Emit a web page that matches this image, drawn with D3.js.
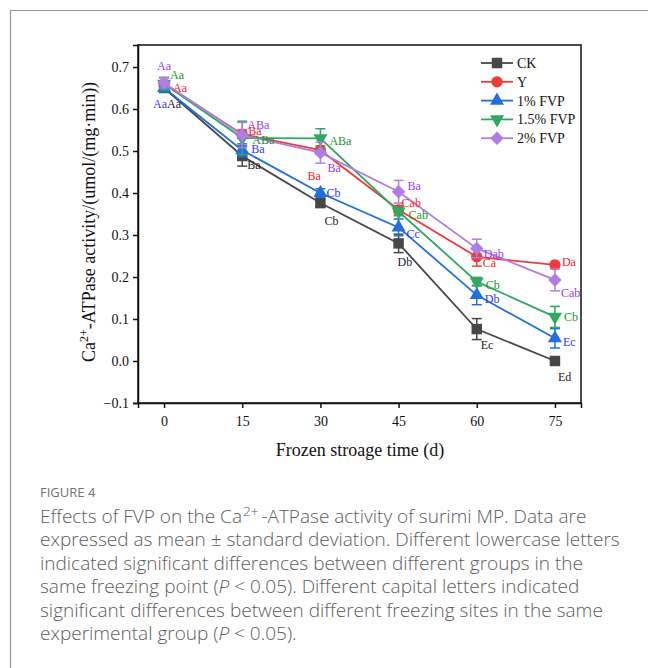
<!DOCTYPE html>
<html>
<head>
<meta charset="utf-8">
<script src="https://cdn.jsdelivr.net/npm/d3@7"></script>
<style>
  body { margin: 0; background: #fff; }
  svg { display: block; }
</style>
</head>
<body>
<svg id="chart" width="648" height="668"></svg>
<script>
// storage days
var days = [0, 15, 30, 45, 60, 75];
var seriesNames = ["CK", "Y", "1% FVP", "1.5% FVP", "2% FVP"];

// Ca2+-ATPase activity, mean values
var ckMean   = [0.650, 0.488, 0.376, 0.280, 0.076, 0.000];
var yMean    = [0.660, 0.540, 0.502, 0.360, 0.248, 0.229];
var fvp1Mean = [0.650, 0.502, 0.400, 0.318, 0.157, 0.054];
var fvp15Mean= [0.660, 0.531, 0.530, 0.356, 0.189, 0.105];
var fvp2Mean = [0.662, 0.538, 0.496, 0.403, 0.268, 0.193];

// standard deviations
var ckSd    = [0.010, 0.024, 0.010, 0.022, 0.025, 0.004];
var ySd     = [0.015, 0.010, 0.010, 0.010, 0.022, 0.005];
var fvp1Sd  = [0.010, 0.015, 0.010, 0.020, 0.023, 0.023];
var fvp15Sd = [0.015, 0.040, 0.023, 0.010, 0.010, 0.025];
var fvp2Sd  = [0.012, 0.030, 0.025, 0.027, 0.022, 0.026];

// significance letters
var ckLetters    = ["Aa", "Ba", "Cb", "Db", "Ec", "Ed"];
var yLetters     = ["Aa", "Ba", "Ba", "Cab", "Ca", "Da"];
var fvp1Letters  = ["Aa", "Ba", "Cb", "Cc", "Db", "Ec"];
var fvp15Letters = ["Aa", "ABa", "ABa", "Cab", "Cb", "Cb"];
var fvp2Letters  = ["Aa", "ABa", "Ba", "Ba", "Dab", "Cab"];

var xTicks = [0, 15, 30, 45, 60, 75];
var yTicks = [-0.1, 0.0, 0.1, 0.2, 0.3, 0.4, 0.5, 0.6, 0.7];

// label offsets (px) from each point: [dx, dy] with text-anchor start, dy = text middle
var ckOff    = [[3,16],[5,9],[4,18],[-1,18],[4,16],[3,16]];
var yOff     = [[9,4],[6,-3],[-13,26],[3,-7],[6,6],[7,-3]];
var fvp1Off  = [[-11,16],[9,-1],[6,0],[8,6],[8,4],[8,3]];
var fvp15Off = [[6,-9],[10,2],[9,2],[10,3],[9,3],[9,0]];
var fvp2Off  = [[-7,-17],[5,-10],[7,15],[9,-6],[7,5],[6,13]];

var series = [
  {name: seriesNames[0], mean: ckMean,    sd: ckSd,    letters: ckLetters,    off: ckOff,    color: "#474747", text: "#222222", shape: "square"},
  {name: seriesNames[1], mean: yMean,     sd: ySd,     letters: yLetters,     off: yOff,     color: "#f03b3d", text: "#ff2222", shape: "circle"},
  {name: seriesNames[2], mean: fvp1Mean,  sd: fvp1Sd,  letters: fvp1Letters,  off: fvp1Off,  color: "#1f6fdf", text: "#3535ff", shape: "triangle"},
  {name: seriesNames[3], mean: fvp15Mean, sd: fvp15Sd, letters: fvp15Letters, off: fvp15Off, color: "#2fa862", text: "#22962a", shape: "triangleDown"},
  {name: seriesNames[4], mean: fvp2Mean,  sd: fvp2Sd,  letters: fvp2Letters,  off: fvp2Off,  color: "#b07ee2", text: "#9b3cf5", shape: "diamond"}
];

var svg = d3.select("#chart");

// outer figure frame (only top and left visible)
svg.append("path")
  .attr("d", "M10.5,668 L10.5,10.5 L648,10.5")
  .attr("fill", "none")
  .attr("stroke", "#9a9a9a")
  .attr("stroke-width", 1.2);

var plot = {left: 138, top: 45, right: 581, bottom: 403};

var x = d3.scaleLinear().domain([-5, 80]).range([plot.left, plot.right]);
var y = d3.scaleLinear().domain([-0.1, 0.7524]).range([plot.bottom, plot.top]);

var serif = "'Liberation Serif', 'Times New Roman', serif";

// frame
svg.append("rect")
  .attr("x", plot.left).attr("y", plot.top)
  .attr("width", plot.right - plot.left).attr("height", plot.bottom - plot.top)
  .attr("fill", "none").attr("stroke", "#111").attr("stroke-width", 1.5);

var xAxis = svg.append("g")
  .attr("transform", "translate(0," + plot.bottom + ")")
  .call(d3.axisBottom(x).tickValues(xTicks).tickSize(5).tickPadding(8).tickFormat(d3.format("d")));
var yAxis = svg.append("g")
  .attr("transform", "translate(" + plot.left + ",0)")
  .call(d3.axisLeft(y).tickValues(yTicks).tickSize(5).tickPadding(4).tickFormat(d3.format(".1f")));

[xAxis, yAxis].forEach(function(ax) {
  ax.select(".domain").attr("stroke", "#111").attr("stroke-width", 1.5);
  ax.selectAll(".tick line").attr("stroke", "#111").attr("stroke-width", 1.5);
  ax.selectAll(".tick text").attr("fill", "#111").style("font-family", serif).style("font-size", "14px");
});

// axis titles
svg.append("text")
  .attr("x", (x(-5) + x(80)) / 2 + 0.5).attr("y", 456)
  .attr("text-anchor", "middle")
  .style("font-family", serif).style("font-size", "18px").attr("fill", "#111")
  .text("Frozen stroage time (d)");

var yt = svg.append("text")
  .attr("transform", "translate(95," + 222 + ") rotate(-90)")
  .attr("text-anchor", "middle")
  .style("font-family", serif).style("font-size", "18px").attr("fill", "#111");
yt.append("tspan").text("Ca");
yt.append("tspan").attr("dy", -7).style("font-size", "12px").text("2+");
yt.append("tspan").attr("dy", 7).text("-ATPase activity/(umol/(mg\u00b7min))");

function markerPath(shape) {
  if (shape === "square") return d3.symbol(d3.symbolSquare, 110)();
  if (shape === "circle") return d3.symbol(d3.symbolCircle, 100)();
  if (shape === "triangle" || shape === "triangleDown") return d3.symbol(d3.symbolTriangle, 85)();
  return d3.symbol(d3.symbolSquare, 90)();
}
function markerRotate(shape) {
  if (shape === "triangleDown") return " rotate(180)";
  if (shape === "diamond") return " rotate(45)";
  return "";
}

var line = d3.line()
  .x(function(d, i) { return x(days[i]); })
  .y(function(d) { return y(d); });

series.forEach(function(s) {
  var g = svg.append("g");
  g.append("path")
    .attr("d", line(s.mean))
    .attr("fill", "none")
    .attr("stroke", s.color)
    .attr("stroke-width", 1.8);

  // error bars
  s.mean.forEach(function(m, i) {
    var cx = x(days[i]);
    var y1 = y(m + s.sd[i]), y2 = y(m - s.sd[i]);
    g.append("line").attr("x1", cx).attr("x2", cx).attr("y1", y1).attr("y2", y2)
      .attr("stroke", s.color).attr("stroke-width", 1.5);
    [y1, y2].forEach(function(yy) {
      g.append("line").attr("x1", cx - 5).attr("x2", cx + 5).attr("y1", yy).attr("y2", yy)
        .attr("stroke", s.color).attr("stroke-width", 1.5);
    });
  });

  g.selectAll(".mk").data(s.mean).enter().append("path")
    .attr("d", markerPath(s.shape))
    .attr("transform", function(d, i) { return "translate(" + x(days[i]) + "," + y(d) + ")" + markerRotate(s.shape); })
    .attr("fill", s.color);
});

// significance letters on top
series.forEach(function(s) {
  svg.append("g").selectAll("text").data(s.letters).enter().append("text")
    .attr("x", function(d, i) { return x(days[i]) + s.off[i][0]; })
    .attr("y", function(d, i) { return y(s.mean[i]) + s.off[i][1]; })
    .attr("dy", "0.35em")
    .style("font-family", serif).style("font-size", "12px")
    .attr("fill", s.text)
    .text(function(d) { return d; });
});

// legend
var legend = svg.append("g").attr("transform", "translate(481,63)");
series.forEach(function(s, i) {
  var row = legend.append("g").attr("transform", "translate(0," + (i * 18.8) + ")");
  row.append("line").attr("x1", 0).attr("x2", 32).attr("y1", 0).attr("y2", 0)
    .attr("stroke", s.color).attr("stroke-width", 1.8);
  row.append("path").attr("d", markerPath(s.shape))
    .attr("transform", "translate(16,0)" + markerRotate(s.shape))
    .attr("fill", s.color);
  row.append("text").attr("x", 36).attr("y", 0).attr("dy", "0.35em")
    .style("font-family", serif).style("font-size", "14px").attr("fill", "#111")
    .text(s.name);
});

// caption
var sans = "'Open Sans', 'Noto Sans', sans-serif";
svg.append("text")
  .attr("x", 40).attr("y", 497)
  .style("font-family", sans).style("font-size", "13px").attr("fill", "#707070")
  .text("FIGURE 4");

var captionLines = [
  [{t: "Effects of FVP on the Ca"}, {t: "2+", sup: true}, {t: "-ATPase activity of surimi MP. Data are", down: true}],
  [{t: "expressed as mean \u00b1 standard deviation. Different lowercase letters"}],
  [{t: "indicated significant differences between different groups in the"}],
  [{t: "same freezing point ("}, {t: "P", it: true}, {t: " < 0.05). Different capital letters indicated"}],
  [{t: "significant differences between different freezing sites in the same"}],
  [{t: "experimental group ("}, {t: "P", it: true}, {t: " < 0.05)."}]
];
captionLines.forEach(function(parts, li) {
  var t = svg.append("text")
    .attr("x", 40).attr("y", 522.5 + li * 23.5)
    .style("font-family", sans).style("font-size", "19px")
    .style("font-weight", 300).attr("fill", "#5c5c5c");
  parts.forEach(function(p) {
    var ts = t.append("tspan").text(p.t);
    if (p.sup) ts.attr("dy", -7).attr("dx", 1).style("font-size", "13.5px");
    if (p.down) ts.attr("dy", 7).attr("dx", 3);
    if (p.it) ts.style("font-style", "italic");
  });
});
</script>
</body>
</html>
